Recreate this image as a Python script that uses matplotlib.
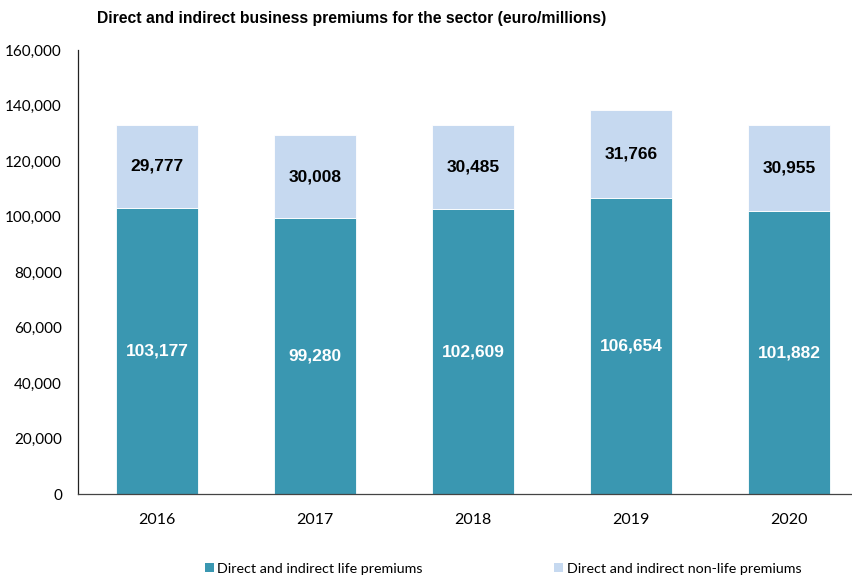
import numpy as np
import matplotlib
matplotlib.use('Agg')
from matplotlib import pyplot as plt
from matplotlib.patches import Patch

# premiums by year, euro millions
years = ['2016', '2017', '2018', '2019', '2020']
life = [103177, 99280, 102609, 106654, 101882]
non_life = [29777, 30008, 30485, 31766, 30955]
y_ticks = [0, 20000, 40000, 60000, 80000, 100000, 120000, 140000, 160000]

teal = '#3A97B1'
light = '#C6D9F0'
narrow = ['Lato', 'DejaVu Sans']

fig = plt.figure(figsize=(8.53, 5.78), dpi=100)
W, H = 853.0, 578.0
# axes runs a little past the right edge of the figure
ax = fig.add_axes([78 / W, 1 - 494 / H, 790 / W, 444 / H])

x = np.arange(len(years))
ax.bar(x, life, width=0.525, color=teal, edgecolor='white', linewidth=0.6)
ax.bar(x, non_life, bottom=life, width=0.525, color=light, edgecolor='white', linewidth=0.6)

for i in range(len(years)):
    ax.text(x[i], life[i] / 2, '{:,}'.format(life[i]), ha='center', va='center',
            color='white', fontsize=12.5, fontweight='bold', family='Liberation Sans')
    ax.text(x[i], life[i] + non_life[i] / 2, '{:,}'.format(non_life[i]), ha='center', va='center',
            color='black', fontsize=12.5, fontweight='bold', family='Liberation Sans')

ax.set_xlim(-0.5, len(years) - 0.5)
ax.set_ylim(0, 160000)
ax.set_yticks(y_ticks)
ax.set_yticklabels(['{:,}'.format(v) for v in y_ticks], family=narrow, fontsize=11)
ax.set_xticks(x)
ax.set_xticklabels(years, family=narrow, fontsize=11.5)
ax.tick_params(axis='y', length=0, pad=11.5)
ax.tick_params(axis='x', length=0, pad=14)
for s in ['top', 'right']:
    ax.spines[s].set_visible(False)
ax.spines['left'].set_color('#222222')
ax.spines['bottom'].set_color('#444444')
ax.spines['left'].set_linewidth(0.9)
ax.spines['bottom'].set_linewidth(0.9)

fig.text(97 / W, 1 - 18 / H, 'Direct and indirect business premiums for the sector (euro/millions)',
         ha='left', va='center', fontsize=11.3, fontweight='bold', family='Liberation Sans')

handles = [Patch(facecolor=teal, label='Direct and indirect life premiums'),
           Patch(facecolor=light, label='Direct and indirect non-life premiums')]
fig.legend(handles=handles, loc='center left', bbox_to_anchor=(198 / W, 1 - 569 / H), ncol=2,
           frameon=False, handlelength=0.6, handleheight=0.6, handletextpad=0.25,
           columnspacing=9.2, borderpad=0, prop={'family': narrow, 'size': 10.3})

fig.savefig('out.png', dpi=100)
